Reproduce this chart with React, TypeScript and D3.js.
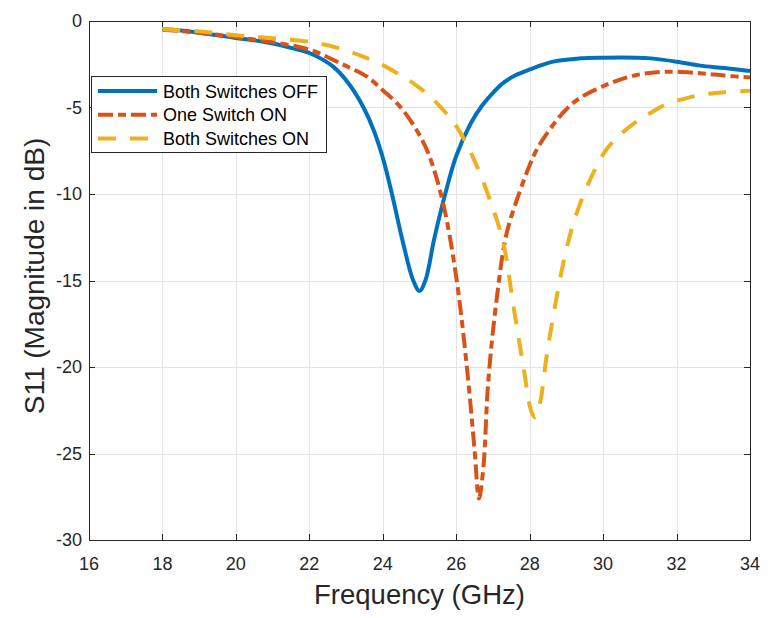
import React, { useEffect, useRef } from 'react';
import * as d3 from 'd3';

// Both Switches OFF
const offFreq = [18, 18.5, 19, 19.5, 20, 20.5, 21, 21.5, 22, 22.65, 23.1, 23.5, 23.75, 24.0, 24.25, 24.55, 24.83, 25.0, 25.16, 25.4, 25.7, 26.0, 26.4, 26.7, 27.0, 27.3, 27.6, 28.0, 28.64, 29.37, 30, 30.9, 31.3, 32, 32.64, 33.3, 34];
const offS11 = [-0.48, -0.55, -0.68, -0.82, -0.98, -1.12, -1.3, -1.55, -1.85, -2.64, -3.7, -5.1, -6.3, -7.9, -10, -12.8, -15, -15.6, -15, -12.6, -10, -7.8, -5.9, -4.9, -4.15, -3.55, -3.15, -2.8, -2.35, -2.16, -2.12, -2.12, -2.16, -2.35, -2.58, -2.72, -2.89];

// One Switch ON
const oneFreq = [18, 18.5, 19, 19.5, 20, 20.5, 21, 21.75, 22.2, 22.65, 23.1, 23.56, 24.0, 24.47, 24.92, 25.25, 25.64, 26.0, 26.29, 26.5, 26.62, 26.74, 26.87, 27.1, 27.37, 27.74, 27.95, 28.2, 28.64, 29.0, 29.37, 30.19, 30.92, 31.75, 32.64, 33.3, 34];
const oneS11 = [-0.5, -0.58, -0.68, -0.8, -0.93, -1.07, -1.22, -1.52, -1.8, -2.25, -2.7, -3.2, -4.0, -4.95, -6.3, -7.7, -10.5, -14.8, -20, -24.8, -27.6, -25.8, -20.9, -16.1, -12.3, -9.8, -8.6, -7.4, -6.0, -5.1, -4.45, -3.6, -3.12, -2.93, -3.02, -3.15, -3.27];

// Both Switches ON
const bothFreq = [18, 19, 20, 21, 22, 22.47, 23.0, 23.47, 24.0, 24.47, 24.9, 25.29, 25.65, 26.01, 26.46, 26.92, 27.28, 27.56, 27.83, 28.05, 28.15, 28.28, 28.46, 28.74, 29.0, 29.28, 29.73, 30.1, 30.5, 30.92, 31.3, 31.73, 32.2, 32.64, 33.3, 34];
const bothS11 = [-0.48, -0.6, -0.82, -1.0, -1.2, -1.39, -1.7, -2.06, -2.55, -3.12, -3.7, -4.37, -5.15, -6.1, -7.9, -10.35, -12.8, -16.5, -20, -22.6, -22.9, -22.1, -19.4, -15.9, -13.2, -11.1, -8.8, -7.4, -6.5, -5.8, -5.3, -4.8, -4.5, -4.28, -4.12, -4.03];

const seriesNames = ['Both Switches OFF', 'One Switch ON', 'Both Switches ON'];
const xTicks = [16, 18, 20, 22, 24, 26, 28, 30, 32, 34];
const yTicks = [0, -5, -10, -15, -20, -25, -30];

const App: React.FC = () => {
  const svgRef = useRef<SVGSVGElement>(null);

  useEffect(() => {
    if (!svgRef.current) return;
    const root = d3.select(svgRef.current);
    root.selectAll('*').remove();

    const W = 779;
    const H = 618;
    const margin = { top: 21, right: 29, bottom: 78, left: 89 };
    const width = W - margin.left - margin.right;
    const height = H - margin.top - margin.bottom;
    const font = '"Liberation Sans", Arial, Helvetica, sans-serif';
    const axisColor = '#262626';

    root.attr('width', W).attr('height', H);

    const svg = root.append('g').attr('transform', `translate(${margin.left},${margin.top})`);

    const x = d3.scaleLinear().domain([16, 34]).range([0, width]);
    const y = d3.scaleLinear().domain([-30, 0]).range([height, 0]);

    // Grid
    svg
      .append('g')
      .selectAll('line')
      .data(xTicks.slice(1, -1))
      .enter()
      .append('line')
      .attr('x1', (d) => Math.round(x(d)) + 0.5)
      .attr('x2', (d) => Math.round(x(d)) + 0.5)
      .attr('y1', 0)
      .attr('y2', height)
      .attr('stroke', '#e3e3e3')
      .attr('stroke-width', 1);

    svg
      .append('g')
      .selectAll('line')
      .data(yTicks.slice(1, -1))
      .enter()
      .append('line')
      .attr('x1', 0)
      .attr('x2', width)
      .attr('y1', (d) => Math.round(y(d)) + 0.5)
      .attr('y2', (d) => Math.round(y(d)) + 0.5)
      .attr('stroke', '#e3e3e3')
      .attr('stroke-width', 1);

    // Curves
    const build = (fs: number[], vs: number[]) => fs.map((f, i) => ({ f, v: vs[i] }));
    const line = d3
      .line<{ f: number; v: number }>()
      .x((d) => x(d.f))
      .y((d) => y(d.v))
      .curve(d3.curveCatmullRom.alpha(0.5));

    const series = [
      { data: build(offFreq, offS11), color: '#0072BD', dash: 'none' },
      { data: build(oneFreq, oneS11), color: '#D95319', dash: '15,5,8,5' },
      { data: build(bothFreq, bothS11), color: '#EDB120', dash: '18,14' },
    ];

    const plot = svg.append('g');
    series.forEach((s) => {
      plot
        .append('path')
        .datum(s.data)
        .attr('fill', 'none')
        .attr('stroke', s.color)
        .attr('stroke-width', 4)
        .attr('stroke-dasharray', s.dash)
        .attr('stroke-linejoin', 'round')
        .attr('d', line);
    });

    // Axes frame and ticks (inside, on all four sides)
    const frame = svg.append('g').attr('stroke', axisColor).attr('stroke-width', 1);
    frame
      .append('rect')
      .attr('x', 0.5)
      .attr('y', 0.5)
      .attr('width', width)
      .attr('height', height)
      .attr('fill', 'none');

    xTicks.forEach((t) => {
      const px = Math.round(x(t)) + 0.5;
      frame.append('line').attr('x1', px).attr('x2', px).attr('y1', height).attr('y2', height - 6);
      frame.append('line').attr('x1', px).attr('x2', px).attr('y1', 0).attr('y2', 6);
    });
    yTicks.forEach((t) => {
      const py = Math.round(y(t)) + 0.5;
      frame.append('line').attr('x1', 0).attr('x2', 6).attr('y1', py).attr('y2', py);
      frame.append('line').attr('x1', width).attr('x2', width - 6).attr('y1', py).attr('y2', py);
    });

    // Tick labels
    svg
      .append('g')
      .selectAll('text')
      .data(xTicks)
      .enter()
      .append('text')
      .attr('x', (d) => x(d))
      .attr('y', height + 30)
      .attr('text-anchor', 'middle')
      .style('font-family', font)
      .style('font-size', '18px')
      .style('fill', axisColor)
      .text((d) => d);

    svg
      .append('g')
      .selectAll('text')
      .data(yTicks)
      .enter()
      .append('text')
      .attr('x', -7)
      .attr('y', (d) => y(d) + 6)
      .attr('text-anchor', 'end')
      .style('font-family', font)
      .style('font-size', '18px')
      .style('fill', axisColor)
      .text((d) => d);

    // Axis labels
    svg
      .append('text')
      .attr('x', width / 2)
      .attr('y', height + 64)
      .attr('text-anchor', 'middle')
      .style('font-family', font)
      .style('font-size', '27.5px')
      .style('fill', axisColor)
      .text('Frequency (GHz)');

    svg
      .append('text')
      .attr('transform', `translate(${44 - margin.left},${276 - margin.top}) rotate(-90)`)
      .attr('text-anchor', 'middle')
      .style('font-family', font)
      .style('font-size', '28px')
      .style('fill', axisColor)
      .text('S11 (Magnitude in dB)');

    // Legend
    const legend = root.append('g').attr('transform', 'translate(91,76)');
    legend
      .append('rect')
      .attr('x', 0.5)
      .attr('y', 0.5)
      .attr('width', 235)
      .attr('height', 76)
      .attr('fill', 'white')
      .attr('stroke', axisColor)
      .attr('stroke-width', 1);

    series.forEach((s, i) => {
      const ly = 15 + i * 23.8;
      legend
        .append('line')
        .attr('x1', 7)
        .attr('x2', 66)
        .attr('y1', ly)
        .attr('y2', ly)
        .attr('stroke', s.color)
        .attr('stroke-width', 4)
        .attr('stroke-dasharray', s.dash);
      legend
        .append('text')
        .attr('x', 72)
        .attr('y', ly + 6.5)
        .style('font-family', font)
        .style('font-size', '18px')
        .style('fill', '#000')
        .text(seriesNames[i]);
    });
  }, []);

  return (
    <div style={{ position: 'absolute', left: 0, top: 0, width: 779, height: 618, background: '#fff' }}>
      <svg ref={svgRef} />
    </div>
  );
};

export default App;
